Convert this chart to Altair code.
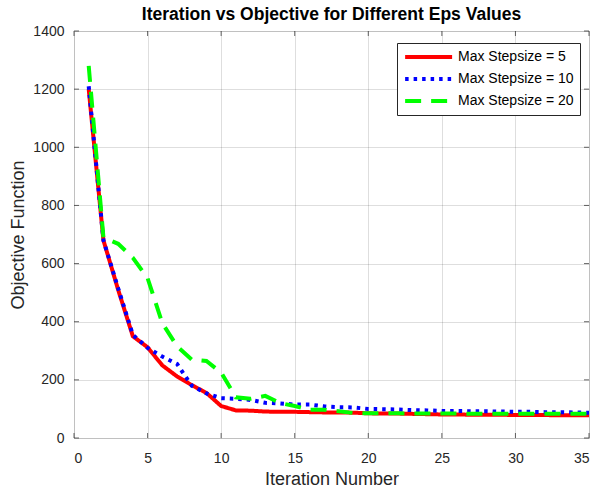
import altair as alt
import pandas as pd

iterations = list(range(1, 36))
step5 = [1200, 680, 510, 350, 312, 250, 212, 182, 155, 110, 95, 94, 91, 90, 90, 89, 88, 88, 87, 85,
         84, 84, 83, 82, 81, 81, 80, 80, 80, 79, 79, 79, 78, 78, 78]
step10 = [1210, 680, 515, 355, 310, 280, 255, 180, 153, 137, 135, 131, 121, 119, 115, 115, 109, 106, 105, 100,
          99, 98, 96, 95, 93, 93, 92, 92, 91, 90, 90, 89, 89, 88, 87]
step20 = [1280, 690, 668, 620, 550, 395, 316, 270, 265, 225, 140, 135, 145, 120, 110, 97, 97, 92, 86, 85,
          85, 85, 84, 84, 84, 84, 83, 83, 83, 83, 83, 83, 83, 83, 83]
series_names = ["Max Stepsize = 5", "Max Stepsize = 10", "Max Stepsize = 20"]
series_colors = ["#ff0000", "#0000ff", "#00ff00"]
series_dashes = [[1, 0], [3.5, 5], [16, 10]]
x_ticks = [0, 5, 10, 15, 20, 25, 30, 35]
y_ticks = [0, 200, 400, 600, 800, 1000, 1200, 1400]

rows = []
for name, vals in zip(series_names, [step5, step10, step20]):
    for it, v in zip(iterations, vals):
        rows.append({"iter": it, "obj": v, "series": name})
df = pd.DataFrame(rows)

W, H = 515, 407
FONT = "Liberation Sans"
AX = "#262626"

xscale = alt.Scale(domain=[0, 35], nice=False, zero=False)
yscale = alt.Scale(domain=[0, 1400], nice=False)

x_axis = alt.Axis(values=x_ticks, grid=True, gridColor="#000000", gridOpacity=0.13, ticks=False,
                  domain=False, labelFont=FONT, labelFontSize=14, labelColor=AX, labelPadding=13,
                  title="Iteration Number", titleFont=FONT, titleFontSize=18, titleFontWeight="normal",
                  titleColor=AX, titlePadding=5)
y_axis = alt.Axis(values=y_ticks, format="d", grid=True, gridColor="#000000", gridOpacity=0.13, ticks=False,
                  domain=False, labelFont=FONT, labelFontSize=14, labelColor=AX, labelPadding=10,
                  title="Objective Function", titleFont=FONT, titleFontSize=18, titleFontWeight="normal",
                  titleColor=AX, titlePadding=5)

legend = alt.Legend(title=None, orient="none", legendX=323, legendY=12, direction="vertical",
                    symbolType="M-1,0H7", symbolSize=138, symbolStrokeWidth=4,
                    symbolFillColor="transparent",
                    labelFont=FONT, labelFontSize=14, labelColor="#000000", labelOffset=39,
                    padding=6, rowPadding=6, strokeColor=AX, fillColor="white",
                    cornerRadius=0, labelLimit=300)

color = alt.Color("series:N", scale=alt.Scale(domain=series_names, range=series_colors), legend=legend)
dash = alt.StrokeDash("series:N", scale=alt.Scale(domain=series_names, range=series_dashes), legend=legend)

X = alt.X("iter:Q", scale=xscale, axis=x_axis)
Y = alt.Y("obj:Q", scale=yscale, axis=y_axis)

layers = []
for name in series_names:
    layers.append(
        alt.Chart(df).transform_filter(alt.datum.series == name)
        .mark_line(strokeWidth=4, strokeCap="butt", clip=True)
        .encode(x=X, y=Y, color=color, strokeDash=dash)
    )

xt = pd.DataFrame({"iter": x_ticks})
yt = pd.DataFrame({"obj": y_ticks})
tick_style = dict(size=5, thickness=1, color=AX)
ticks = [
    alt.Chart(xt).mark_tick(orient="vertical", **tick_style).encode(x=X, y=alt.value(H - 2.5)),
    alt.Chart(xt).mark_tick(orient="vertical", **tick_style).encode(x=X, y=alt.value(2.5)),
    alt.Chart(yt).mark_tick(orient="horizontal", **tick_style).encode(y=Y, x=alt.value(2.5)),
    alt.Chart(yt).mark_tick(orient="horizontal", **tick_style).encode(y=Y, x=alt.value(W - 2.5)),
]

chart = alt.layer(*layers, *ticks).properties(
    width=W, height=H,
    title=alt.TitleParams("Iteration vs Objective for Different Eps Values", fontSize=17.5,
                          fontWeight="bold", font=FONT, color="#000000", offset=1,
                          anchor="middle"),
    autosize=alt.AutoSizeParams(type="none"),
    padding={"left": 74, "top": 31, "right": 11, "bottom": 50},
).configure_view(stroke=AX, strokeWidth=1).configure(background="white")

chart.save("out.html", embed_options={"renderer": "svg", "actions": False})
